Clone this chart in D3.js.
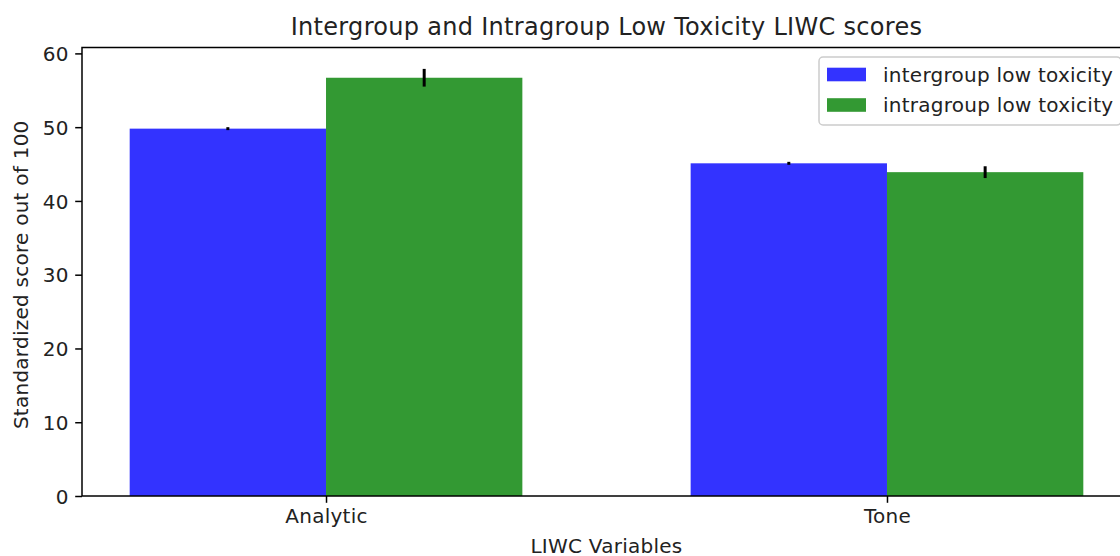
<!DOCTYPE html>
<html>
<head>
<meta charset="utf-8">
<script src="https://cdn.jsdelivr.net/npm/d3@7"></script>
<style>
  html, body { margin: 0; padding: 0; background: #fff; }
  svg { display: block; font-family: "DejaVu Sans", sans-serif; }
</style>
</head>
<body>
<svg id="chart" width="1120" height="556"></svg>
<script>
const categories = ["Analytic", "Tone"];
const seriesNames = ["intergroup low toxicity", "intragroup low toxicity"];
const interValues = [49.8, 45.1];
const interErrors = [0.2, 0.2];
const intraValues = [56.7, 43.9];
const intraErrors = [1.2, 0.8];
const yTicks = [0, 10, 20, 30, 40, 50, 60];
const colors = ["#3333ff", "#339933"];

const series = [
  { name: seriesNames[0], values: interValues, errors: interErrors, color: colors[0], offset: 0 },
  { name: seriesNames[1], values: intraValues, errors: intraErrors, color: colors[1], offset: 1 }
];

const barWidth = 0.35;
const svg = d3.select("#chart");
const mLeft = 82, mRight = 1131, mTop = 47.5, mBottom = 496;

const x = d3.scaleLinear().domain([-0.26, 1.61]).range([mLeft, mRight]);
const y = d3.scaleLinear().domain([0, 60.8]).range([mBottom, mTop]);

// bars
series.forEach(s => {
  svg.append("g").selectAll("rect")
    .data(categories.map((c, i) => ({ i, v: s.values[i] })))
    .join("rect")
    .attr("x", d => x(d.i + s.offset * barWidth - barWidth / 2))
    .attr("width", d => x(d.i + barWidth) - x(d.i))
    .attr("y", d => y(d.v))
    .attr("height", d => y(0) - y(d.v))
    .attr("fill", s.color);
});

// error bars
series.forEach(s => {
  svg.append("g").selectAll("line")
    .data(categories.map((c, i) => ({ i, v: s.values[i], e: s.errors[i] })))
    .join("line")
    .attr("x1", d => x(d.i + s.offset * barWidth))
    .attr("x2", d => x(d.i + s.offset * barWidth))
    .attr("y1", d => y(d.v - d.e))
    .attr("y2", d => y(d.v + d.e))
    .attr("stroke", "#000")
    .attr("stroke-width", 3);
});

// axes
const fs = 20;
const ls = "0.25px";
const yAxis = svg.append("g")
  .attr("transform", `translate(${mLeft},0)`)
  .call(d3.axisLeft(y).tickValues(yTicks).tickSize(6.8).tickPadding(6.5).tickSizeOuter(0));
const xAxis = svg.append("g")
  .attr("transform", `translate(0,${mBottom})`)
  .call(d3.axisBottom(x).tickValues(categories.map((c, i) => i + barWidth / 2))
    .tickFormat((d, i) => categories[i]).tickSize(6.8).tickPadding(6).tickSizeOuter(0));
[yAxis, xAxis].forEach(a => {
  a.select(".domain").remove();
  a.selectAll(".tick line").attr("stroke", "#000").attr("stroke-width", 1.5);
  a.selectAll(".tick text").attr("fill", "#222").style("font-size", fs + "px")
    .style("letter-spacing", ls).style("font-family", "DejaVu Sans");
});
yAxis.selectAll(".tick text").attr("dy", "0.36em");

// spines
svg.append("rect")
  .attr("x", mLeft).attr("y", mTop)
  .attr("width", mRight - mLeft).attr("height", mBottom - mTop)
  .attr("fill", "none").attr("stroke", "#000").attr("stroke-width", 1.5);

// title
svg.append("text")
  .attr("x", (mLeft + mRight) / 2).attr("y", 34.5)
  .attr("text-anchor", "middle")
  .style("font-size", "24px").style("letter-spacing", "0.3px").attr("fill", "#222")
  .text("Intergroup and Intragroup Low Toxicity LIWC scores");

// axis labels
svg.append("text")
  .attr("x", (mLeft + mRight) / 2).attr("y", 552.5)
  .attr("text-anchor", "middle")
  .style("font-size", fs + "px").style("letter-spacing", ls).attr("fill", "#222")
  .text("LIWC Variables");
svg.append("text")
  .attr("transform", `translate(28,${(mTop + mBottom) / 2 + 3}) rotate(-90)`)
  .attr("text-anchor", "middle")
  .style("font-size", fs + "px").style("letter-spacing", ls).attr("fill", "#222")
  .text("Standardized score out of 100");

// legend
const lg = svg.append("g");
lg.append("rect")
  .attr("x", 819).attr("y", 57)
  .attr("width", 302).attr("height", 68)
  .attr("rx", 4)
  .attr("fill", "#fff").attr("fill-opacity", 0.8)
  .attr("stroke", "#cccccc").attr("stroke-width", 1.5);
series.forEach((s, k) => {
  const cy = 74.5 + k * 30.5;
  lg.append("rect")
    .attr("x", 827).attr("y", cy - 6.8)
    .attr("width", 39).attr("height", 13.6)
    .attr("fill", s.color);
  lg.append("text")
    .attr("x", 883).attr("y", cy).attr("dy", "0.36em")
    .style("font-size", fs + "px").style("letter-spacing", ls).attr("fill", "#222")
    .text(s.name);
});
</script>
</body>
</html>
